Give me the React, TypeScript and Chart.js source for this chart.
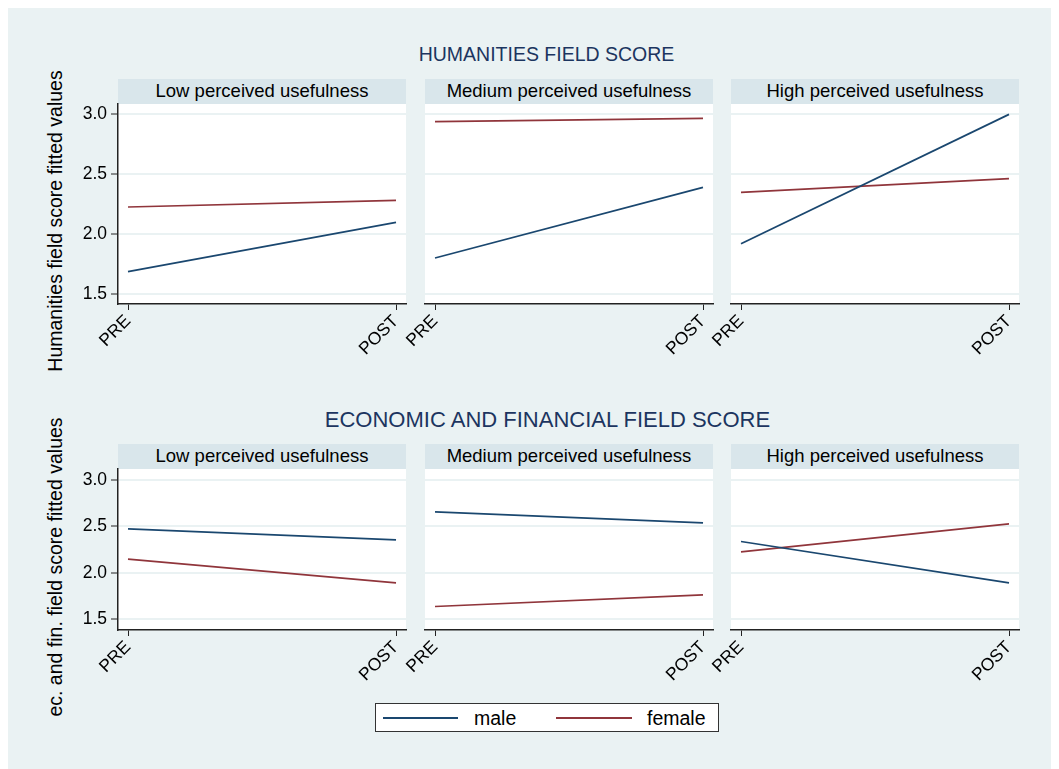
import React, { useEffect, useRef } from 'react';
import { Chart, registerables } from 'chart.js';

Chart.register(...registerables);

// ---------- data ----------
const periods = ['PRE', 'POST'];
const yTicks = [1.5, 2.0, 2.5, 3.0];
const panelTitles = ['Low perceived usefulness', 'Medium perceived usefulness', 'High perceived usefulness'];
const seriesNames = ['male', 'female'];

const humMaleLow = [1.686, 2.097];
const humFemaleLow = [2.225, 2.28];
const humMaleMed = [1.8, 2.389];
const humFemaleMed = [2.936, 2.964];
const humMaleHigh = [1.919, 2.997];
const humFemaleHigh = [2.347, 2.461];

const ecoMaleLow = [2.472, 2.354];
const ecoFemaleLow = [2.146, 1.891];
const ecoMaleMed = [2.655, 2.537];
const ecoFemaleMed = [1.636, 1.762];
const ecoMaleHigh = [2.336, 1.891];
const ecoFemaleHigh = [2.225, 2.526];

const topTitle = 'HUMANITIES FIELD SCORE';
const bottomTitle = 'ECONOMIC AND FINANCIAL FIELD SCORE';
const topYLabel = 'Humanities field score fitted values';
const bottomYLabel = 'ec. and fin. field score fitted values';

// ---------- style ----------
const FONT = '"Liberation Sans", Arial, Helvetica, sans-serif';
const BG = '#eaf2f3';
const STRIP = '#d9e6eb';
const GRID = '#eaf2f3';
const MALE = '#1a476f';
const FEMALE = '#90353b';
const TITLE_COLOR = '#1c3560';
const AXIS = '#222222';

const Y_W = 50;
const X_H = 60;
const PAD_T = 10;
const PAD_R = 12;
const PLOT_W = 288;

const plotBg = {
  id: 'plotBg',
  beforeDraw(chart: any) {
    const { ctx, chartArea } = chart;
    ctx.save();
    ctx.fillStyle = '#ffffff';
    ctx.fillRect(chartArea.left, chartArea.top, chartArea.right - chartArea.left, chartArea.bottom - chartArea.top);
    ctx.restore();
  },
};

type PanelProps = {
  left: number;
  top: number;
  plotH: number;
  yMin: number;
  yMax: number;
  male: number[];
  female: number[];
  showY: boolean;
};

function Panel({ left, top, plotH, yMin, yMax, male, female, showY }: PanelProps) {
  const ref = useRef<HTMLCanvasElement | null>(null);
  useEffect(() => {
    if (!ref.current) return;
    const toPts = (vals: number[]) => periods.map((_, i) => ({ x: i, y: vals[i] }));
    const chart = new Chart(ref.current, {
      type: 'line',
      data: {
        datasets: [
          {
            label: seriesNames[0],
            data: toPts(male),
            borderColor: MALE,
            borderWidth: 1.7,
            pointRadius: 0,
            fill: false,
            tension: 0,
          },
          {
            label: seriesNames[1],
            data: toPts(female),
            borderColor: FEMALE,
            borderWidth: 1.7,
            pointRadius: 0,
            fill: false,
            tension: 0,
          },
        ],
      },
      options: {
        animation: false,
        responsive: false,
        devicePixelRatio: 1,
        layout: { padding: { top: PAD_T, right: PAD_R, left: 0, bottom: 0 } },
        plugins: { legend: { display: false }, tooltip: { enabled: false }, title: { display: false } },
        scales: {
          x: {
            type: 'linear',
            min: -10 / 268,
            max: 1 + 10 / 268,
            afterBuildTicks: (s: any) => {
              s.ticks = periods.map((_, i) => ({ value: i }));
            },
            afterFit: (s: any) => {
              s.height = X_H;
              s.paddingLeft = 0;
              s.paddingRight = 0;
              s.paddingTop = 0;
              s.paddingBottom = 0;
            },
            ticks: {
              autoSkip: false,
              minRotation: 45,
              maxRotation: 45,
              padding: 1,
              color: '#000',
              font: { family: FONT, size: 17.5 },
              callback: (v: any) => periods[Math.round(Number(v))] ?? '',
            },
            grid: {
              display: true,
              drawOnChartArea: false,
              drawTicks: true,
              tickLength: 6,
              tickColor: AXIS,
              tickWidth: 1,
            },
            border: { display: true, color: AXIS, width: 1.5 },
          },
          y: {
            type: 'linear',
            min: yMin,
            max: yMax,
            afterBuildTicks: (s: any) => {
              s.ticks = yTicks.map((v) => ({ value: v }));
            },
            afterFit: (s: any) => {
              s.width = Y_W;
              s.paddingLeft = 0;
              s.paddingRight = 0;
              s.paddingTop = 0;
              s.paddingBottom = 0;
            },
            ticks: {
              display: showY,
              padding: 4,
              color: '#000',
              font: { family: FONT, size: 17.5 },
              callback: (v: any) => Number(v).toFixed(1),
            },
            grid: {
              display: true,
              color: GRID,
              lineWidth: 2,
              drawTicks: showY,
              tickLength: 7,
              tickColor: AXIS,
              tickWidth: 1,
            },
            border: { display: showY, color: AXIS, width: 1.5 },
          },
        },
      },
      plugins: [plotBg],
    } as any);
    return () => chart.destroy();
  }, [left, top, plotH, yMin, yMax, male, female, showY]);

  const w = Y_W + PLOT_W + PAD_R;
  const h = PAD_T + plotH + X_H;
  return (
    <canvas
      ref={ref}
      width={w}
      height={h}
      style={{ position: 'absolute', left: left - Y_W, top: top - PAD_T, width: w, height: h }}
    />
  );
}

function Strip({ left, top, text }: { left: number; top: number; text: string }) {
  return (
    <div
      style={{
        position: 'absolute',
        left,
        top,
        width: PLOT_W,
        height: 25,
        background: STRIP,
        color: '#000',
        fontFamily: FONT,
        fontSize: 18.5,
        lineHeight: '24px',
        textAlign: 'center',
        whiteSpace: 'nowrap',
      }}
    >
      {text}
    </div>
  );
}

function YLabel({ cx, cy, text }: { cx: number; cy: number; text: string }) {
  return (
    <div
      style={{
        position: 'absolute',
        left: cx - 200,
        top: cy - 10,
        width: 400,
        height: 20,
        lineHeight: '20px',
        fontFamily: FONT,
        fontSize: 19.5,
        color: '#000',
        textAlign: 'center',
        whiteSpace: 'nowrap',
        transform: 'rotate(-90deg)',
        transformOrigin: '50% 50%',
      }}
    >
      {text}
    </div>
  );
}

export default function App() {
  // container coordinates (page minus 8px body margin)
  const colLefts = [110, 417, 723];
  const topPlotTop = 96;
  const topPlotH = 200;
  const botPlotTop = 461;
  const botPlotH = 161;

  const topMale = [humMaleLow, humMaleMed, humMaleHigh];
  const topFemale = [humFemaleLow, humFemaleMed, humFemaleHigh];
  const botMale = [ecoMaleLow, ecoMaleMed, ecoMaleHigh];
  const botFemale = [ecoFemaleLow, ecoFemaleMed, ecoFemaleHigh];

  const topMin = 1.5 - 10 / 120;
  const topMax = 3.0 + 10 / 120;
  const botMin = 1.5 - 10.85 / 92.87;
  const botMax = 3.0 + 10.85 / 92.87;

  return (
    <div
      style={{
        position: 'relative',
        width: 1051,
        height: 761,
        background: BG,
        overflow: 'hidden',
        fontFamily: FONT,
      }}
    >
      <div
        style={{
          position: 'absolute',
          left: 538.5 - 300,
          top: 37.2,
          width: 600,
          textAlign: 'center',
          fontSize: 19.5,
          lineHeight: '19.5px',
          color: TITLE_COLOR,
          whiteSpace: 'nowrap',
        }}
      >
        {topTitle}
      </div>
      <div
        style={{
          position: 'absolute',
          left: 539.5 - 300,
          top: 401.1,
          width: 600,
          textAlign: 'center',
          fontSize: 22,
          lineHeight: '22px',
          color: TITLE_COLOR,
          whiteSpace: 'nowrap',
        }}
      >
        {bottomTitle}
      </div>

      <YLabel cx={47} cy={212.5} text={topYLabel} />
      <YLabel cx={47} cy={558.5} text={bottomYLabel} />

      {colLefts.map((l, i) => (
        <Strip key={'ts' + i} left={l} top={71} text={panelTitles[i]} />
      ))}
      {colLefts.map((l, i) => (
        <Strip key={'bs' + i} left={l} top={436} text={panelTitles[i]} />
      ))}

      {colLefts.map((l, i) => (
        <Panel
          key={'tp' + i}
          left={l}
          top={topPlotTop}
          plotH={topPlotH}
          yMin={topMin}
          yMax={topMax}
          male={topMale[i]}
          female={topFemale[i]}
          showY={i === 0}
        />
      ))}
      {colLefts.map((l, i) => (
        <Panel
          key={'bp' + i}
          left={l}
          top={botPlotTop}
          plotH={botPlotH}
          yMin={botMin}
          yMax={botMax}
          male={botMale[i]}
          female={botFemale[i]}
          showY={i === 0}
        />
      ))}

      {/* legend */}
      <div
        style={{
          position: 'absolute',
          left: 367,
          top: 695,
          width: 344,
          height: 29,
          boxSizing: 'border-box',
          background: '#ffffff',
          border: '1px solid #333333',
        }}
      >
        <div style={{ position: 'absolute', left: 7, top: 13, width: 75, height: 2, background: MALE }} />
        <div
          style={{
            position: 'absolute',
            left: 98,
            top: 4.5,
            fontSize: 19.5,
            lineHeight: '19.5px',
            color: '#000',
            whiteSpace: 'nowrap',
          }}
        >
          {seriesNames[0]}
        </div>
        <div style={{ position: 'absolute', left: 180, top: 13, width: 76, height: 2, background: FEMALE }} />
        <div
          style={{
            position: 'absolute',
            left: 271,
            top: 4.5,
            fontSize: 19.5,
            lineHeight: '19.5px',
            color: '#000',
            whiteSpace: 'nowrap',
          }}
        >
          {seriesNames[1]}
        </div>
      </div>
    </div>
  );
}
